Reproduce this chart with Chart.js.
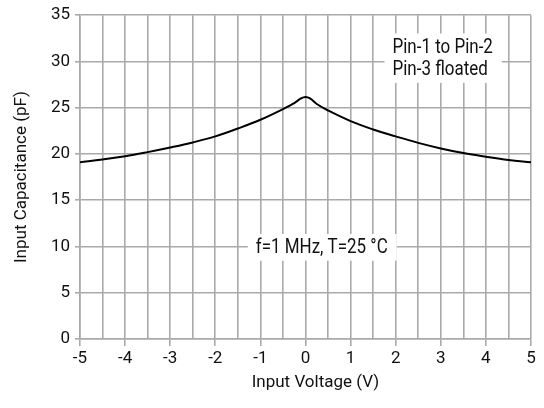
<!DOCTYPE html>
<html>
<head>
<meta charset="utf-8">
<script src="https://cdn.jsdelivr.net/npm/chart.js@4.4.1/dist/chart.umd.min.js"></script>
<style>
  html, body { margin: 0; padding: 0; background: #fff; }
  #wrap { width: 544px; height: 408px; }
</style>
</head>
<body>
<div id="wrap"><canvas id="capChart"></canvas></div>
<script>
// values
const voltage = [-5, -4.5, -4, -3.5, -3, -2.5, -2, -1.5, -1, -0.5, -0.25, -0.1, 0, 0.1, 0.25, 0.5, 1, 1.5, 2, 2.5, 3, 3.5, 4, 4.5, 5];
const capacitance = [19.1, 19.4, 19.75, 20.2, 20.7, 21.25, 21.9, 22.75, 23.7, 24.85, 25.5, 26.0, 26.15, 26.0, 25.4, 24.7, 23.55, 22.65, 21.9, 21.2, 20.6, 20.1, 19.7, 19.35, 19.1];

const xTicks = [-5, -4, -3, -2, -1, 0, 1, 2, 3, 4, 5];
const yTicks = [0, 5, 10, 15, 20, 25, 30, 35];

const xTitle = "Input Voltage (V)";
const yTitle = "Input Capacitance (pF)";

const notes = [
    { x: 1.93, y: 30.25, lines: ["Pin-1 to Pin-2", "Pin-3 floated"], align: "left" },
    { x: 0.36, y: 9.8, lines: ["f=1 MHz, T=25 °C"], align: "center" }
];

const FONT = "Roboto, 'Liberation Sans', sans-serif";
const GRID = "#aaaaaa";

// text notes with a white box behind them (squeezed a bit, like a condensed face)
// plus the x axis title, which sits a little right of centre in the original
const notePlugin = {
    id: "notes",
    afterDatasetsDraw(chart) {
        const ctx = chart.ctx;
        const xs = chart.scales.x;
        const ys = chart.scales.y;
        const squeeze = 0.87;
        const lh = 22.7;
        ctx.save();
        ctx.font = "19.5px " + FONT;
        ctx.textBaseline = "middle";
        ctx.textAlign = "left";
        notes.forEach(n => {
            const px = xs.getPixelForValue(n.x);
            const py = ys.getPixelForValue(n.y);
            const w = Math.max(...n.lines.map(l => ctx.measureText(l).width)) * squeeze;
            const h = lh * n.lines.length;
            const left = n.align === "left" ? px : px - w / 2;
            ctx.fillStyle = "#fff";
            ctx.fillRect(left - 8, py - h / 2 - 3, w + 17, h + 4);
            ctx.fillStyle = "#111";
            n.lines.forEach((l, i) => {
                ctx.save();
                ctx.translate(left, py - h / 2 + lh * i + lh / 2);
                ctx.scale(squeeze, 1);
                ctx.fillText(l, 0, 0);
                ctx.restore();
            });
        });

        ctx.font = "17px " + FONT;
        ctx.textAlign = "center";
        ctx.fillStyle = "#111";
        ctx.fillText(xTitle, xs.getPixelForValue(0.22), chart.height - 25);
        ctx.restore();
    }
};

const ctx = document.getElementById("capChart");
const capChart = new Chart(ctx, {
    type: "line",
    data: {
        datasets: [{
            data: voltage.map((v, i) => ({ x: v, y: capacitance[i] })),
            borderColor: "#000",
            borderWidth: 2,
            pointRadius: 0,
            fill: false,
            tension: 0.4
        }]
    },
    options: {
        responsive: true,
        maintainAspectRatio: false,
        animation: false,
        events: [],
        layout: { padding: { top: 12, right: 13, left: 0, bottom: 0 } },
        plugins: {
            legend: { display: false },
            tooltip: { enabled: false }
        },
        scales: {
            x: {
                type: "linear",
                min: -5,
                max: 5,
                afterFit(scale) { scale.height = 69; },
                afterBuildTicks(scale) {
                    const t = [];
                    for (let v = -5; v <= 5.001; v += 0.5) t.push({ value: v });
                    scale.ticks = t;
                },
                ticks: {
                    autoSkip: false,
                    maxRotation: 0,
                    padding: 3,
                    color: "#111",
                    font: { family: FONT, size: 17 },
                    callback: v => xTicks.includes(v) ? String(v) : ""
                },
                grid: {
                    color: GRID,
                    lineWidth: 1.6,
                    tickLength: 7,
                    tickColor: c => (c.tick && xTicks.includes(c.tick.value)) ? GRID : "rgba(0,0,0,0)"
                },
                border: { color: GRID, width: 1.6 },
                title: { display: false }
            },
            y: {
                min: 0,
                max: 35,
                afterFit(scale) { scale.width = 80; },
                afterBuildTicks(scale) {
                    scale.ticks = yTicks.map(v => ({ value: v }));
                },
                ticks: {
                    padding: 5,
                    color: "#111",
                    font: { family: FONT, size: 17 }
                },
                grid: {
                    color: GRID,
                    lineWidth: 1.6,
                    tickLength: 5,
                    tickColor: GRID
                },
                border: { color: GRID, width: 1.6 },
                title: {
                    display: true,
                    text: yTitle,
                    color: "#111",
                    font: { family: FONT, size: 17 },
                    padding: { top: 12, bottom: 0 }
                }
            }
        }
    },
    plugins: [notePlugin]
});
</script>
</body>
</html>
